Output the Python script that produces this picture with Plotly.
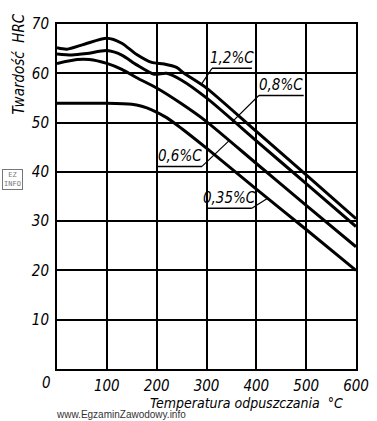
import plotly.graph_objects as go

# ---- data ----
temp_12 = [0, 20, 55, 100, 130, 160, 190, 215, 240, 255, 300, 400, 500, 600]
hrc_12 = [65.2, 64.9, 65.9, 67.1, 66.1, 63.8, 62.2, 61.9, 61.2, 60.0, 57.0, 48.2, 39.4, 30.5]

temp_08 = [0, 30, 60, 100, 130, 160, 195, 220, 250, 300, 400, 500, 600]
hrc_08 = [63.9, 63.7, 64.0, 64.6, 63.7, 61.7, 59.8, 60.0, 58.6, 55.0, 46.3, 37.6, 28.9]

temp_06 = [0, 40, 65, 100, 130, 160, 200, 250, 300, 400, 500, 600]
hrc_06 = [62.0, 62.8, 62.8, 62.0, 60.8, 59.1, 57.0, 53.8, 50.2, 41.7, 33.2, 24.8]

temp_035 = [0, 100, 150, 170, 190, 220, 250, 300, 400, 500, 600]
hrc_035 = [53.9, 53.9, 53.7, 53.3, 52.6, 51.0, 48.8, 44.8, 36.5, 28.3, 20.0]

series_names = ["1,2%C", "0,8%C", "0,6%C", "0,35%C"]
x_ticks = [100, 200, 300, 400, 500, 600]
y_ticks = [10, 20, 30, 40, 50, 60, 70]

FONT = "DejaVu Sans Condensed, Liberation Sans Narrow, Liberation Sans, sans-serif"
FS = 15

fig = go.Figure()
for name, xs, ys in [(series_names[0], temp_12, hrc_12), (series_names[1], temp_08, hrc_08),
                     (series_names[2], temp_06, hrc_06), (series_names[3], temp_035, hrc_035)]:
    fig.add_trace(go.Scatter(x=xs, y=ys, mode="lines", name=name,
                             line=dict(color="black", width=3, shape="spline", smoothing=0.7),
                             showlegend=False, hoverinfo="skip"))

# label placements (underline start/end, leader end on the curve)
labels = [
    (series_names[0], 311, 391, 61.0, 290, 57.8),
    (series_names[1], 405, 495, 55.5, 352, 50.2),
    (series_names[2], 201, 291, 41.1, 346, 46.4),
    (series_names[3], 301, 391, 32.6, 422, 34.6),
]
for i, (txt, ux0, ux1, uy, lx, ly) in enumerate(labels):
    fig.add_shape(type="line", x0=ux0, x1=ux1, y0=uy, y1=uy, line=dict(color="black", width=1.5))
    start_x = ux1 if i >= 2 else ux0
    fig.add_shape(type="line", x0=start_x, y0=uy, x1=lx, y1=ly, line=dict(color="black", width=1.2))
    fig.add_annotation(x=(ux0 + ux1) / 2, y=uy, text=txt, showarrow=False,
                       xanchor="center", yanchor="bottom", yshift=-1,
                       font=dict(family=FONT, size=FS, color="black", style="italic"))

fig.update_xaxes(range=[0, 600], tickvals=x_ticks, ticktext=[str(v) for v in x_ticks],
                 showgrid=True, gridcolor="black", gridwidth=1.5,
                 showline=True, linecolor="black", linewidth=2, mirror=True,
                 ticks="", zeroline=False, automargin=False, ticklabelstandoff=2,
                 tickfont=dict(family=FONT, size=FS, color="black", style="italic"))
fig.update_yaxes(range=[0, 70], tickvals=y_ticks, ticktext=[str(v) for v in y_ticks],
                 showgrid=True, gridcolor="black", gridwidth=1.5,
                 showline=True, linecolor="black", linewidth=2, mirror=True,
                 ticks="", zeroline=False, ticklabelstandoff=3, automargin=False,
                 tickfont=dict(family=FONT, size=FS, color="black", style="italic"))

# "0" label at the origin, offset left as in the original
fig.add_annotation(x=0, y=0, yref="y", text="0", showarrow=False, xanchor="center", yanchor="top",
                   xshift=-11, yshift=-3,
                   font=dict(family=FONT, size=FS, color="black", style="italic"))
# axis titles
fig.add_annotation(xref="paper", yref="paper", x=0.635, y=-0.069, text="Temperatura odpuszczania  °C",
                   showarrow=False, xanchor="center", yanchor="top",
                   font=dict(family=FONT, size=14, color="black", style="italic"))
fig.add_annotation(xref="paper", yref="paper", x=-0.128, y=0.885, text="Twardość  HRC", textangle=-90,
                   showarrow=False, xanchor="center", yanchor="middle",
                   font=dict(family=FONT, size=FS, color="black", style="italic"))
# watermark
fig.add_annotation(xref="paper", yref="paper", x=0.215, y=-0.132, text="www.EgzaminZawodowy.info",
                   showarrow=False, xanchor="center", yanchor="middle",
                   font=dict(family="Liberation Sans, Arial, sans-serif", size=10, color="#333333"))
fig.add_annotation(xref="paper", yref="paper", x=-0.15, y=0.55, text="EZ<br>INFO",
                   showarrow=False, xanchor="center", yanchor="middle",
                   bordercolor="#777777", borderwidth=1, borderpad=1,
                   font=dict(family="DejaVu Sans Mono, monospace", size=7, color="#777777"))

fig.update_layout(width=377, height=421, margin=dict(l=57, r=21, t=24, b=52),
                  paper_bgcolor="white", plot_bgcolor="white")
fig.write_html("out.html", config={"displayModeBar": False},
               post_script="document.body.style.margin='0px';document.body.style.overflow='hidden';")
